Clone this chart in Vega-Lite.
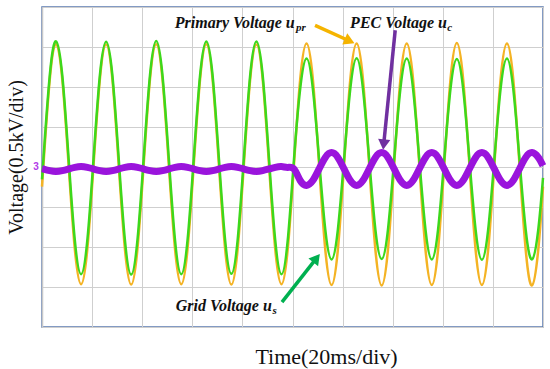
{
  "$schema": "https://vega.github.io/schema/vega-lite/v6.json",
  "width": 501,
  "height": 320,
  "autosize": {"type": "none"},
  "padding": {"left": 42, "top": 7, "right": 7, "bottom": 42},
  "background": "white",
  "config": {"view": {"stroke": "#5A7AB0", "strokeWidth": 1.5}},
  "datasets": {
    "primary": [
      {"t":0,"v":-0.49},
      {"t":0.03,"v":0.07},{"t":0.155,"v":2.19},{"t":0.28,"v":3.07},{"t":0.405,"v":2.19},{"t":0.53,"v":0.07},{"t":0.655,"v":-2.05},{"t":0.78,"v":-2.93},{"t":0.905,"v":-2.05},
      {"t":1.03,"v":0.07},{"t":1.155,"v":2.19},{"t":1.28,"v":3.06},{"t":1.405,"v":2.19},{"t":1.53,"v":0.07},{"t":1.655,"v":-2.05},{"t":1.78,"v":-2.94},{"t":1.905,"v":-2.05},
      {"t":2.03,"v":0.07},{"t":2.155,"v":2.19},{"t":2.28,"v":3.07},{"t":2.405,"v":2.19},{"t":2.53,"v":0.07},{"t":2.655,"v":-2.05},{"t":2.78,"v":-2.93},{"t":2.905,"v":-2.05},
      {"t":3.03,"v":0.07},{"t":3.155,"v":2.19},{"t":3.28,"v":3.07},{"t":3.405,"v":2.19},{"t":3.53,"v":0.07},{"t":3.655,"v":-2.05},{"t":3.78,"v":-2.94},{"t":3.905,"v":-2.05},
      {"t":4.03,"v":0.07},{"t":4.155,"v":2.19},{"t":4.28,"v":3.06},{"t":4.405,"v":2.19},{"t":4.53,"v":0.07},{"t":4.655,"v":-2.05},{"t":4.78,"v":-2.93},{"t":4.905,"v":-2.05},
      {"t":5.03,"v":0.07},{"t":5.155,"v":2.21},{"t":5.28,"v":3.09},{"t":5.405,"v":2.21},{"t":5.53,"v":0.07},{"t":5.655,"v":-2.07},{"t":5.78,"v":-2.95},{"t":5.905,"v":-2.07},
      {"t":6.03,"v":0.07},{"t":6.155,"v":2.21},{"t":6.28,"v":3.09},{"t":6.405,"v":2.21},{"t":6.53,"v":0.07},{"t":6.655,"v":-2.07},{"t":6.78,"v":-2.96},{"t":6.905,"v":-2.07},
      {"t":7.03,"v":0.07},{"t":7.155,"v":2.21},{"t":7.28,"v":3.09},{"t":7.405,"v":2.21},{"t":7.53,"v":0.07},{"t":7.655,"v":-2.07},{"t":7.78,"v":-2.95},{"t":7.905,"v":-2.07},
      {"t":8.03,"v":0.07},{"t":8.155,"v":2.21},{"t":8.28,"v":3.1},{"t":8.405,"v":2.21},{"t":8.53,"v":0.07},{"t":8.655,"v":-2.07},{"t":8.78,"v":-2.95},{"t":8.905,"v":-2.07},
      {"t":9.03,"v":0.07},{"t":9.155,"v":2.21},{"t":9.28,"v":3.09},{"t":9.405,"v":2.21},{"t":9.53,"v":0.07},{"t":9.655,"v":-2.07},{"t":9.78,"v":-2.96},{"t":9.905,"v":-2.07},
      {"t":10,"v":-0.49}
    ],
    "grid": [
      {"t":0,"v":-0.31},
      {"t":0.03,"v":0.23},{"t":0.155,"v":2.29},{"t":0.28,"v":3.14},{"t":0.405,"v":2.29},{"t":0.53,"v":0.23},{"t":0.655,"v":-1.83},{"t":0.78,"v":-2.68},{"t":0.905,"v":-1.83},
      {"t":1.03,"v":0.23},{"t":1.155,"v":2.29},{"t":1.28,"v":3.13},{"t":1.405,"v":2.29},{"t":1.53,"v":0.23},{"t":1.655,"v":-1.83},{"t":1.78,"v":-2.69},{"t":1.905,"v":-1.83},
      {"t":2.03,"v":0.23},{"t":2.155,"v":2.29},{"t":2.28,"v":3.15},{"t":2.405,"v":2.29},{"t":2.53,"v":0.23},{"t":2.655,"v":-1.83},{"t":2.78,"v":-2.68},{"t":2.905,"v":-1.83},
      {"t":3.03,"v":0.23},{"t":3.155,"v":2.29},{"t":3.28,"v":3.14},{"t":3.405,"v":2.29},{"t":3.53,"v":0.23},{"t":3.655,"v":-1.83},{"t":3.78,"v":-2.67},{"t":3.905,"v":-1.83},
      {"t":4.03,"v":0.23},{"t":4.155,"v":2.29},{"t":4.28,"v":3.14},{"t":4.405,"v":2.29},{"t":4.53,"v":0.23},{"t":4.655,"v":-1.83},{"t":4.78,"v":-2.68},{"t":4.905,"v":-1.83},
      {"t":5.03,"v":0.2},{"t":5.155,"v":1.97},{"t":5.28,"v":2.71},{"t":5.405,"v":1.97},{"t":5.53,"v":0.2},{"t":5.655,"v":-1.57},{"t":5.78,"v":-2.31},{"t":5.905,"v":-1.57},
      {"t":6.03,"v":0.2},{"t":6.155,"v":1.97},{"t":6.28,"v":2.72},{"t":6.405,"v":1.97},{"t":6.53,"v":0.2},{"t":6.655,"v":-1.57},{"t":6.78,"v":-2.3},{"t":6.905,"v":-1.57},
      {"t":7.03,"v":0.2},{"t":7.155,"v":1.97},{"t":7.28,"v":2.71},{"t":7.405,"v":1.97},{"t":7.53,"v":0.2},{"t":7.655,"v":-1.57},{"t":7.78,"v":-2.31},{"t":7.905,"v":-1.57},
      {"t":8.03,"v":0.2},{"t":8.155,"v":1.97},{"t":8.28,"v":2.7},{"t":8.405,"v":1.97},{"t":8.53,"v":0.2},{"t":8.655,"v":-1.57},{"t":8.78,"v":-2.32},{"t":8.905,"v":-1.57},
      {"t":9.03,"v":0.2},{"t":9.155,"v":1.97},{"t":9.28,"v":2.71},{"t":9.405,"v":1.97},{"t":9.53,"v":0.2},{"t":9.655,"v":-1.57},{"t":9.78,"v":-2.31},{"t":9.905,"v":-1.57},
      {"t":10,"v":-0.27}
    ],
    "pec": [
      {"t":0,"v":-0.04},
      {"t":0.03,"v":-0.05},{"t":0.155,"v":-0.09},{"t":0.28,"v":-0.11},{"t":0.405,"v":-0.09},{"t":0.53,"v":-0.05},{"t":0.655,"v":-0.01},{"t":0.78,"v":0.01},{"t":0.905,"v":-0.01},
      {"t":1.03,"v":-0.05},{"t":1.155,"v":-0.09},{"t":1.28,"v":-0.11},{"t":1.405,"v":-0.09},{"t":1.53,"v":-0.05},{"t":1.655,"v":-0.01},{"t":1.78,"v":0.01},{"t":1.905,"v":-0.01},
      {"t":2.03,"v":-0.05},{"t":2.155,"v":-0.09},{"t":2.28,"v":-0.11},{"t":2.405,"v":-0.09},{"t":2.53,"v":-0.05},{"t":2.655,"v":-0.01},{"t":2.78,"v":0.01},{"t":2.905,"v":-0.01},
      {"t":3.03,"v":-0.05},{"t":3.155,"v":-0.09},{"t":3.28,"v":-0.11},{"t":3.405,"v":-0.09},{"t":3.53,"v":-0.05},{"t":3.655,"v":-0.01},{"t":3.78,"v":0.01},{"t":3.905,"v":-0.01},
      {"t":4.03,"v":-0.05},{"t":4.155,"v":-0.09},{"t":4.28,"v":-0.11},{"t":4.405,"v":-0.09},{"t":4.53,"v":-0.05},{"t":4.655,"v":-0.01},{"t":4.78,"v":0.01},{"t":4.905,"v":-0.01},
      {"t":5.03,"v":-0.05},{"t":5.155,"v":-0.34},{"t":5.28,"v":-0.46},{"t":5.405,"v":-0.34},{"t":5.53,"v":-0.05},{"t":5.655,"v":0.24},{"t":5.78,"v":0.36},{"t":5.905,"v":0.24},
      {"t":6.03,"v":-0.05},{"t":6.155,"v":-0.34},{"t":6.28,"v":-0.46},{"t":6.405,"v":-0.34},{"t":6.53,"v":-0.05},{"t":6.655,"v":0.24},{"t":6.78,"v":0.36},{"t":6.905,"v":0.24},
      {"t":7.03,"v":-0.05},{"t":7.155,"v":-0.34},{"t":7.28,"v":-0.46},{"t":7.405,"v":-0.34},{"t":7.53,"v":-0.05},{"t":7.655,"v":0.24},{"t":7.78,"v":0.36},{"t":7.905,"v":0.24},
      {"t":8.03,"v":-0.05},{"t":8.155,"v":-0.34},{"t":8.28,"v":-0.46},{"t":8.405,"v":-0.34},{"t":8.53,"v":-0.05},{"t":8.655,"v":0.24},{"t":8.78,"v":0.36},{"t":8.905,"v":0.24},
      {"t":9.03,"v":-0.05},{"t":9.155,"v":-0.34},{"t":9.28,"v":-0.46},{"t":9.405,"v":-0.34},{"t":9.53,"v":-0.05},{"t":9.655,"v":0.24},{"t":9.78,"v":0.36},{"t":9.905,"v":0.24},
      {"t":10,"v":0.03}
    ],
    "arrows": [
      {"name":"primary","t":5.45,"v":3.54,"t2":6.14,"v2":3.15},
      {"name":"pec","t":7.05,"v":3.42,"t2":6.82,"v2":0.56},
      {"name":"grid","t":4.79,"v":-3.38,"t2":5.48,"v2":-2.28}
    ],
    "labels": [
      {"txt":"Primary Voltage u","t":2.65,"v":3.47,"kind":"main"},
      {"txt":"pr","t":5.07,"v":3.39,"kind":"sub"},
      {"txt":"PEC Voltage u","t":6.15,"v":3.47,"kind":"main"},
      {"txt":"c","t":8.09,"v":3.39,"kind":"sub"},
      {"txt":"Grid Voltage u","t":2.67,"v":-3.6,"kind":"main"},
      {"txt":"s","t":4.6,"v":-3.68,"kind":"sub"},
      {"txt":"3","t":-0.12,"v":0,"kind":"marker"}
    ]
  },
  "encoding": {
    "x": {
      "field": "t", "type": "quantitative",
      "scale": {"domain": [0, 10], "nice": false, "zero": false},
      "axis": {
        "title": "Time(20ms/div)", "values": [0,1,2,3,4,5,6,7,8,9,10],
        "labels": false, "ticks": false, "domain": false,
        "grid": true, "gridColor": "#CFCFCF", "gridWidth": 1,
        "titleFont": "Liberation Serif", "titleFontSize": 22, "titleFontWeight": "normal", "titleColor": "#111111",
        "titleX": 284, "titleY": 36, "titleBaseline": "alphabetic", "titleAlign": "center"
      }
    },
    "y": {
      "field": "v", "type": "quantitative",
      "scale": {"domain": [-4, 4], "nice": false, "zero": false},
      "axis": {
        "title": "Voltage(0.5kV/div)", "values": [-4,-3,-2,-1,0,1,2,3,4],
        "labels": false, "ticks": false, "domain": true, "domainColor": "#C8C8C8", "domainWidth": 1.5,
        "grid": true, "gridColor": "#CFCFCF", "gridWidth": 1,
        "titleFont": "Liberation Serif", "titleFontSize": 20, "titleFontWeight": "normal", "titleColor": "#111111",
        "titleX": -26, "titleY": 150, "titleAngle": -90, "titleBaseline": "middle", "titleAlign": "center"
      }
    }
  },
  "layer": [
    {"data": {"name": "primary"}, "mark": {"type": "line", "color": "#F4B324", "strokeWidth": 2.5, "interpolate": "natural"}},
    {"data": {"name": "grid"}, "mark": {"type": "line", "color": "#3CD81C", "strokeWidth": 2.5, "interpolate": "natural"}},
    {"data": {"name": "pec"}, "mark": {"type": "line", "color": "#9A14DC", "strokeWidth": 7, "interpolate": "natural"}},
    {"data": {"name": "arrows"}, "transform": [{"filter": "datum.name == 'primary'"}], "mark": {"type": "rule", "color": "#F5B400", "strokeWidth": 3.5},
     "encoding": {"x2": {"field": "t2"}, "y2": {"field": "v2"}}},
    {"data": {"name": "arrows"}, "transform": [{"filter": "datum.name == 'pec'"}], "mark": {"type": "rule", "color": "#7030A0", "strokeWidth": 3.5},
     "encoding": {"x2": {"field": "t2"}, "y2": {"field": "v2"}}},
    {"data": {"name": "arrows"}, "transform": [{"filter": "datum.name == 'grid'"}], "mark": {"type": "rule", "color": "#00B050", "strokeWidth": 3.5},
     "encoding": {"x2": {"field": "t2"}, "y2": {"field": "v2"}}},
    {"data": {"name": "arrows"}, "transform": [{"filter": "datum.name == 'primary'"}],
     "mark": {"type": "point", "shape": "triangle-up", "filled": true, "opacity": 1, "color": "#F5B400", "size": 150, "angle": 114},
     "encoding": {"x": {"field": "t2", "type": "quantitative", "title": "Time(20ms/div)"}, "y": {"field": "v2", "type": "quantitative", "title": "Voltage(0.5kV/div)"}}},
    {"data": {"name": "arrows"}, "transform": [{"filter": "datum.name == 'pec'"}],
     "mark": {"type": "point", "shape": "triangle-up", "filled": true, "opacity": 1, "color": "#7030A0", "size": 150, "angle": 186},
     "encoding": {"x": {"field": "t2", "type": "quantitative", "title": "Time(20ms/div)"}, "y": {"field": "v2", "type": "quantitative", "title": "Voltage(0.5kV/div)"}}},
    {"data": {"name": "arrows"}, "transform": [{"filter": "datum.name == 'grid'"}],
     "mark": {"type": "point", "shape": "triangle-up", "filled": true, "opacity": 1, "color": "#00B050", "size": 150, "angle": 38},
     "encoding": {"x": {"field": "t2", "type": "quantitative", "title": "Time(20ms/div)"}, "y": {"field": "v2", "type": "quantitative", "title": "Voltage(0.5kV/div)"}}},
    {"data": {"name": "labels"}, "transform": [{"filter": "datum.kind == 'main'"}],
     "mark": {"type": "text", "align": "left", "baseline": "alphabetic", "font": "Liberation Serif", "fontStyle": "italic", "fontWeight": "bold", "fontSize": 16, "color": "#111111"},
     "encoding": {"text": {"field": "txt"}}},
    {"data": {"name": "labels"}, "transform": [{"filter": "datum.kind == 'sub'"}],
     "mark": {"type": "text", "align": "left", "baseline": "alphabetic", "font": "Liberation Serif", "fontStyle": "italic", "fontWeight": "bold", "fontSize": 11, "color": "#111111"},
     "encoding": {"text": {"field": "txt"}}},
    {"data": {"name": "labels"}, "transform": [{"filter": "datum.kind == 'marker'"}],
     "mark": {"type": "text", "align": "center", "baseline": "middle", "font": "Liberation Sans", "fontWeight": "bold", "fontSize": 10, "color": "#B23BE8"},
     "encoding": {"text": {"field": "txt"}}}
  ]
}
